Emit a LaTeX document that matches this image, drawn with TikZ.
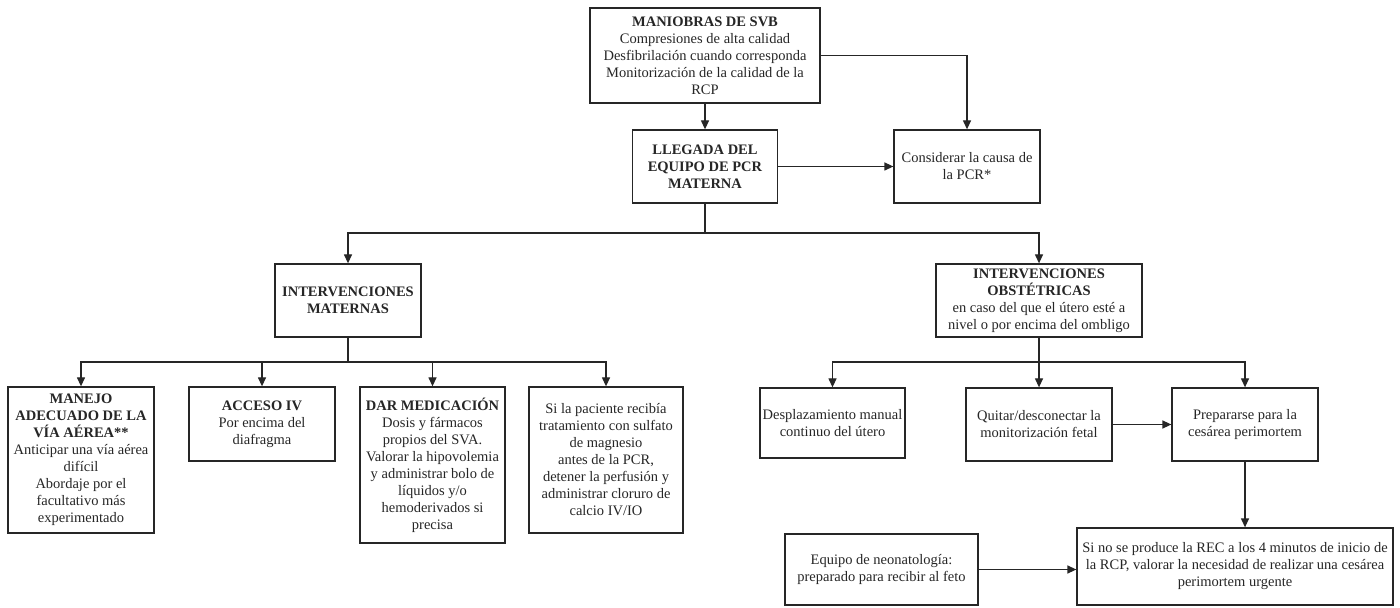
\documentclass[tikz,border=0pt]{standalone}
\usepackage{fontspec}
\setmainfont{Liberation Serif}
\usetikzlibrary{arrows.meta}
\definecolor{ink}{HTML}{262626}
\begin{document}
\begin{tikzpicture}[x=0.5pt,y=-0.5pt,
  box/.style={draw=ink, line width=0.65pt, rectangle, align=center, inner sep=1pt,
    font=\fontsize{7.25}{8.5}\selectfont, text=ink},
  arr/.style={draw=ink, line width=0.65pt, -{Triangle[length=4.5pt,width=4pt]}},
  ln/.style={draw=ink, line width=0.65pt}]
\useasboundingbox (0,0) rectangle (1400,608);
\fill[white] (0,0) rectangle (1400,608);

\node[box, minimum width=115pt, minimum height=47.5pt] (svb) at (705,55.5)
  {\textbf{MANIOBRAS DE SVB}\\Compresiones de alta calidad\\Desfibrilación cuando corresponda\\Monitorización de la calidad de la\\RCP};
\node[box, minimum width=72.5pt, minimum height=36.5pt] (lleg) at (705,166.5)
  {\textbf{LLEGADA DEL}\\\textbf{EQUIPO DE PCR}\\\textbf{MATERNA}};
\node[box, minimum width=73pt, minimum height=36.5pt] (cons) at (967,166.5)
  {Considerar la causa de\\la PCR*};
\node[box, minimum width=73pt, minimum height=36.5pt] (mat) at (348,300.5)
  {\textbf{INTERVENCIONES}\\\textbf{MATERNAS}};
\node[box, minimum width=103pt, minimum height=36.5pt] (obs) at (1039,300.5)
  {\textbf{INTERVENCIONES}\\\textbf{OBSTÉTRICAS}\\en caso del que el útero esté a\\nivel o por encima del ombligo};

\node[box, minimum width=73pt, minimum height=73pt] (b1) at (81,460)
  {\textbf{MANEJO}\\\textbf{ADECUADO DE LA}\\\textbf{VÍA AÉREA**}\\Anticipar una vía aérea\\difícil\\Abordaje por el\\facultativo más\\experimentado};
\node[box, minimum width=73pt, minimum height=37pt] (b2) at (262,424)
  {\textbf{ACCESO IV}\\Por encima del\\diafragma};
\node[box, minimum width=72.5pt, minimum height=78pt] (b3) at (432.5,465)
  {\textbf{DAR MEDICACIÓN}\\Dosis y fármacos\\propios del SVA.\\Valorar la hipovolemia\\y administrar bolo de\\líquidos y/o\\hemoderivados si\\precisa};
\node[box, minimum width=77pt, minimum height=73pt] (b4) at (606,460)
  {Si la paciente recibía\\tratamiento con sulfato\\de magnesio\\antes de la PCR,\\detener la perfusión y\\administrar cloruro de\\calcio IV/IO};

\node[box, minimum width=72.5pt, minimum height=35pt] (desp) at (832.5,423)
  {Desplazamiento manual\\continuo del útero};
\node[box, minimum width=73pt, minimum height=36.5pt] (quit) at (1039,424.5)
  {Quitar/desconectar la\\monitorización fetal};
\node[box, minimum width=73pt, minimum height=36.5pt] (prep) at (1245,424.5)
  {Prepararse para la\\cesárea perimortem};
\node[box, minimum width=158pt, minimum height=38.5pt] (sino) at (1235,566.5)
  {Si no se produce la REC a los 4 minutos de inicio de\\la RCP, valorar la necesidad de realizar una cesárea\\perimortem urgente};
\node[box, minimum width=96.5pt, minimum height=35.5pt] (equ) at (881.5,569.5)
  {Equipo de neonatología:\\preparado para recibir al feto};

\coordinate (j1) at (705,233);
\coordinate (j2) at (348,362);
\coordinate (j3) at (1039,362);

\draw[arr] (svb) -- (lleg);
\draw[arr] (svb.east) -| (cons.north);
\draw[arr] (lleg) -- (cons);
\draw[ln] (lleg.south) -- (j1);
\draw[arr] (j1) -| (mat.north);
\draw[arr] (j1) -| (obs.north);
\draw[ln] (mat.south) -- (j2);
\draw[arr] (j2) -| (b1.north);
\draw[arr] (j2) -| (b2.north);
\draw[arr] (j2) -| (b3.north);
\draw[arr] (j2) -| (b4.north);
\draw[ln] (obs.south) -- (j3);
\draw[arr] (j3) -| (desp.north);
\draw[arr] (j3) -- (quit.north);
\draw[arr] (j3) -| (prep.north);
\draw[arr] (quit) -- (prep);
\draw[arr] (prep.south) -- (prep.south |- sino.north);
\draw[arr] (equ.east) -- (equ.east -| sino.west);
\end{tikzpicture}
\end{document}
